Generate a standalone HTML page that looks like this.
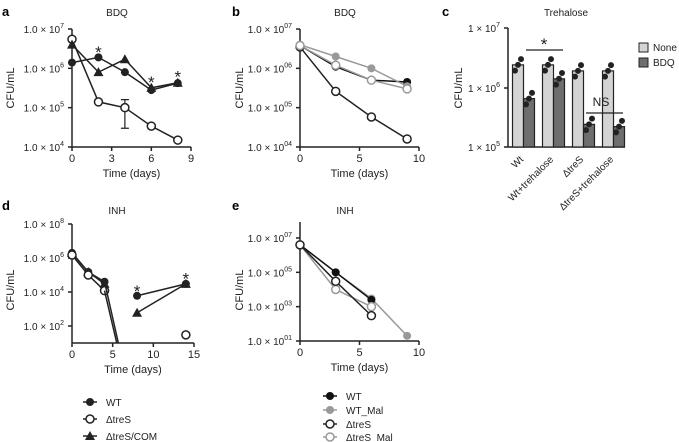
<!DOCTYPE html>
<html><head><meta charset="utf-8"><style>
body{margin:0;background:#fff}
svg{display:block;font-family:"Liberation Sans",sans-serif}
</style></head><body>
<svg id="fig" width="679" height="442" viewBox="0 0 679 442"></svg>
<script>
// Panel a (BDQ)
const aDays=[0,2,4,6,8];
const aWT=[1.4e6,1.9e6,8e5,2.8e5,4.2e5];
const aTreS=[5.5e6,1.4e5,1e5,3.4e4,1.5e4];
const aCOM=[4e6,8e5,1.7e6,3.2e5,4.3e5];
// Panel b (BDQ)
const bDays=[0,3,6,9];
const bWT=[3.8e6,1.1e6,5e5,4.5e5];
const bWTMal=[4e6,2e6,1e6,3.5e5];
const bTreS=[3.5e6,2.6e5,5.8e4,1.6e4];
const bTreSMal=[3.8e6,1.2e6,5e5,3e5];
// Panel c (Trehalose)
const cGroups=["Wt","Wt+trehalose","ΔtreS","ΔtreS+trehalose"];
const cNone=[2.4e6,2.4e6,1.9e6,1.9e6];
const cBDQ=[6.5e5,1.4e6,2.4e5,2.2e5];
// Panel d (INH)
const dDays=[0,2,4,8,14];
const dWT=[2e6,1.5e5,4e4,6e3,3e4];
const dTreSDays=[0,2,4];
const dTreS=[1.5e6,1e5,1.2e4];
const dCOM=[2e6,1.5e5,3e4,6e2,3e4];
// Panel e (INH)
const eDays=[0,3,6];
const eDays9=[0,3,6,9];
const eWT=[4e6,1e5,2.5e3];
const eWTMal=[4e6,1e5,3e3,20];
const eTreS=[4e6,3e4,3e2];
const eTreSMal=[4e6,1e4,1e3];

const S=document.getElementById('fig');
const NS='http://www.w3.org/2000/svg';
function mk(t,a,p){const e=document.createElementNS(NS,t);for(const k in a)e.setAttribute(k,a[k]);(p||S).appendChild(e);return e;}
function txt(x,y,s,o){o=o||{};const e=mk('text',{x:x,y:y,'font-size':o.fs||10,'text-anchor':o.a||'middle',fill:o.c||'#222','font-weight':o.w||'normal'});if(o.r)e.setAttribute('transform','rotate('+o.r+' '+x+' '+y+')');e.innerHTML=s;return e;}
function logAx(y0,p0,y1,p1){return v=>y0+(Math.log10(v)-p0)/(p1-p0)*(y1-y0);}
function linAx(x0,v0,x1,v1){return v=>x0+(v-v0)/(v1-v0)*(x1-x0);}
function yTick(ax,yy,m,p){mk('line',{x1:ax-4,x2:ax,y1:yy,y2:yy,stroke:'#222','stroke-width':1.5});
 const t=mk('text',{x:ax-8,y:yy+4,'font-size':10,'text-anchor':'end',fill:'#222'});t.innerHTML=m+' × 10<tspan dy="-5" font-size="7">'+p+'</tspan>';}
function series(name,xs,ys,X,Y,style){
 const g=mk('g',{});
 
 
 let d='';xs.forEach((x,i)=>{d+=(i?'L':'M')+X(x)+' '+Y(ys[i]);});
 mk('path',{d:d,fill:'none',stroke:style.c,'stroke-width':1.5},g);
 xs.forEach((x,i)=>marker(g,X(x),Y(ys[i]),style));
}
function marker(g,x,y,s){
 if(s.m==='tri')mk('path',{d:`M${x} ${y-5}L${x+5} ${y+4}L${x-5} ${y+4}Z`,fill:s.c},g);
 else if(s.m==='open')mk('circle',{cx:x,cy:y,r:4,fill:'#fff',stroke:s.c,'stroke-width':1.5},g);
 else mk('circle',{cx:x,cy:y,r:4,fill:s.c},g);
}
function axes(ax,ytop,ybot,xend,xticks,X,label){
 mk('line',{x1:ax,x2:ax,y1:ytop,y2:ybot,stroke:'#222','stroke-width':1.5});
 mk('line',{x1:ax,x2:xend,y1:ybot,y2:ybot,stroke:'#222','stroke-width':1.5});
 xticks.forEach(v=>{mk('line',{x1:X(v),x2:X(v),y1:ybot,y2:ybot+4,stroke:'#222','stroke-width':1.5});txt(X(v),ybot+15,v,{fs:11});});
 if(label)txt((ax+xend)/2,ybot+30,'Time (days)',{fs:11});
}
// ---- Panel a
txt(2,16,'a',{a:'start',fs:13,w:'bold',c:'#000'});txt(117,16,'BDQ',{fs:10});
txt(14,88,'CFU/mL',{fs:11,r:-90});
let X=linAx(72,0,191,9),Y=logAx(147,4,29,7);
axes(72,29,147,191,[0,3,6,9],X,true);
[7,6,5,4].forEach(p=>yTick(72,Y(10**p),'1.0',p));
mk('path',{d:`M${X(4)} ${Y(3e4)}V${Y(1.6e5)}M${X(4)-4} ${Y(3e4)}h8M${X(4)-4} ${Y(1.6e5)}h8`,stroke:'#222','stroke-width':1.2});
series('a-series-wt',aDays,aWT,X,Y,{c:'#222',m:'fill'});
series('a-series-tres',aDays,aTreS,X,Y,{c:'#222',m:'open'});
series('a-series-com',aDays,aCOM,X,Y,{c:'#222',m:'tri'});
[[2,2.9e6],[6,5e5],[8,7e5]].forEach(s=>txt(X(s[0]),Y(s[1])+8,'*',{fs:17}));
// ---- Panel b
txt(232,16,'b',{a:'start',fs:13,w:'bold',c:'#000'});txt(345,16,'BDQ',{fs:10});
txt(243,88,'CFU/mL',{fs:11,r:-90});
X=linAx(300,0,419,10);Y=logAx(147,4,29,7);
axes(300,29,147,419,[0,5,10],X,true);
[7,6,5,4].forEach(p=>yTick(300,Y(10**p),'1.0','0'+p));
series('b-series-wt',bDays,bWT,X,Y,{c:'#111',m:'fill'});
series('b-series-tres',bDays,bTreS,X,Y,{c:'#222',m:'open'});
series('b-series-wt-mal',bDays,bWTMal,X,Y,{c:'#999',m:'fill'});
series('b-series-tres-mal',bDays,bTreSMal,X,Y,{c:'#999',m:'open'});
// ---- Panel c
txt(442,16,'c',{a:'start',fs:13,w:'bold',c:'#000'});txt(566,16,'Trehalose',{fs:10});
txt(462,88,'CFU/mL',{fs:11,r:-90});
Y=logAx(147,5,28,7);
mk('line',{x1:508,x2:508,y1:28,y2:147,stroke:'#222','stroke-width':1.5});
mk('line',{x1:508,x2:625,y1:147,y2:147,stroke:'#222','stroke-width':1.5});
[[7,28],[6,88],[5,147]].forEach(t=>{mk('line',{x1:504,x2:508,y1:t[1],y2:t[1],stroke:'#222','stroke-width':1.5});const e=mk('text',{x:500,y:t[1]+4,'font-size':10,'text-anchor':'end',fill:'#222'});e.innerHTML='1 × 10<tspan dy="-5" font-size="7">'+t[0]+'</tspan>';});
cGroups.forEach((g,i)=>{const cx=518+i*30;
 const b1=mk('rect',{x:cx-5.5,y:Y(cNone[i]),width:11,height:147-Y(cNone[i]),fill:'#d4d4d4',stroke:'#222','stroke-width':1.2});
 
 const b2=mk('rect',{x:cx+5.5,y:Y(cBDQ[i]),width:11,height:147-Y(cBDQ[i]),fill:'#6e6e6e',stroke:'#222','stroke-width':1.2});
 
 [0.8,1,1.25].forEach((f,j)=>{mk('circle',{cx:cx-3+j*3,cy:Y(cNone[i]*f),r:3,fill:'#222'});mk('circle',{cx:cx+8+j*3,cy:Y(cBDQ[i]*f),r:3,fill:'#222'});});
 txt(cx+6,160,g,{a:'end',fs:10,r:-45});
});
mk('line',{x1:526,x2:563,y1:50,y2:50,stroke:'#222','stroke-width':1.2});txt(544,50,'*',{fs:17});
mk('line',{x1:586,x2:623,y1:113,y2:113,stroke:'#222','stroke-width':1.2});txt(601,106,'NS',{fs:12});
mk('rect',{x:639,y:43,width:9,height:9,fill:'#d4d4d4',stroke:'#222'});txt(653,51,'None',{a:'start',fs:10});
mk('rect',{x:639,y:58,width:9,height:9,fill:'#6e6e6e',stroke:'#222'});txt(653,66,'BDQ',{a:'start',fs:10});
// ---- Panel d
txt(2,210,'d',{a:'start',fs:13,w:'bold',c:'#000'});txt(117,214,'INH',{fs:10});
txt(14,290,'CFU/mL',{fs:11,r:-90});
X=linAx(72,0,194,15);Y=logAx(343,1,224,8);
axes(72,224,343,194,[0,5,10,15],X,true);
[8,6,4,2].forEach(p=>yTick(72,Y(10**p),'1.0',p));
series('d-series-wt',dDays.slice(0,3),dWT.slice(0,3),X,Y,{c:'#222',m:'fill'});
series('d-series-wt-late',dDays.slice(3),dWT.slice(3),X,Y,{c:'#222',m:'fill'});
series('d-series-com-late',dDays.slice(3),dCOM.slice(3),X,Y,{c:'#222',m:'tri'});
series('d-series-com',dDays.slice(0,3),dCOM.slice(0,3),X,Y,{c:'#222',m:'tri'});
series('d-series-tres',dTreSDays,dTreS,X,Y,{c:'#222',m:'open'});
mk('path',{d:`M${X(4)} ${Y(4e4)}L${X(5.7)} 343M${X(4)} ${Y(1.2e4)}L${X(5.5)} 343`,stroke:'#222','stroke-width':1.5});
mk('circle',{cx:X(14),cy:Y(30),r:4,fill:'#fff',stroke:'#222','stroke-width':1.5});
txt(X(8),Y(1.5e4)+8,'*',{fs:17});txt(X(14),Y(8e4)+8,'*',{fs:17});
// ---- Panel e
txt(232,210,'e',{a:'start',fs:13,w:'bold',c:'#000'});txt(345,214,'INH',{fs:10});
txt(243,290,'CFU/mL',{fs:11,r:-90});
X=linAx(300,0,419,10);Y=logAx(341,1,238,7);
axes(300,222,341,419,[0,5,10],X,true);
[7,5,3,1].forEach(p=>yTick(300,Y(10**p),'1.0','0'+p));
series('e-series-wt-mal',eDays9,eWTMal,X,Y,{c:'#999',m:'fill'});
series('e-series-wt',eDays,eWT,X,Y,{c:'#111',m:'fill'});
series('e-series-tres-mal',eDays,eTreSMal,X,Y,{c:'#999',m:'open'});
series('e-series-tres',eDays,eTreS,X,Y,{c:'#222',m:'open'});
// ---- Legends
function leg(x,y,s,label){const g=mk('g',{});mk('line',{x1:x-7,x2:x+7,y1:y,y2:y,stroke:s.c,'stroke-width':1.5},g);marker(g,x,y,s);const t=mk('text',{x:x+16,y:y+4,'font-size':10,fill:'#222'},g);t.textContent=label;return g;}
let l;
l=leg(90,402,{c:'#222',m:'fill'},'WT');
l=leg(90,419,{c:'#222',m:'open'},'ΔtreS');
l=leg(90,436,{c:'#222',m:'tri'},'ΔtreS/COM');
l=leg(330,396,{c:'#111',m:'fill'},'WT');
l=leg(330,410,{c:'#999',m:'fill'},'WT_Mal');
l=leg(330,424,{c:'#222',m:'open'},'ΔtreS');
l=leg(330,437,{c:'#999',m:'open'},'ΔtreS_Mal');
</script>
</body></html>
